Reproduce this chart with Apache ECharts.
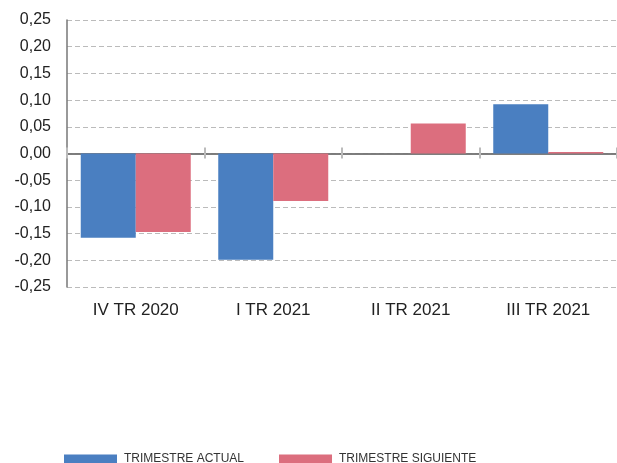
<!DOCTYPE html>
<html><head><meta charset="utf-8">
<script src="https://cdn.jsdelivr.net/npm/echarts@6/dist/echarts.min.js"></script>
<style>html,body{margin:0;padding:0;background:#fff}#c{width:617px;height:463px}</style>
</head><body><div id="c"></div>
<script>
const categories = ['IV TR 2020', 'I TR 2021', 'II TR 2021', 'III TR 2021'];
const seriesNames = ['TRIMESTRE ACTUAL', 'TRIMESTRE SIGUIENTE'];
const actual = [-0.158, -0.199, 0, 0.092];
const siguiente = [-0.147, -0.089, 0.056, 0.003];
const yTicks = { min: -0.25, max: 0.25, interval: 0.05 };

const chart = echarts.init(document.getElementById('c'), null, { renderer: 'canvas' });
const font = 'Liberation Sans, Arial, Helvetica, sans-serif';
chart.setOption({
  animation: false,
  textStyle: { fontFamily: font },
  grid: { left: 67, right: 0, top: 20, bottom: 176, containLabel: false },
  legend: {
    bottom: -2, left: 64, padding: 0, itemGap: 35, itemWidth: 53, itemHeight: 9,
    icon: 'rect',
    textStyle: { fontFamily: font, fontSize: 12, color: '#333', padding: [0, 0, 0, 2] },
    data: seriesNames
  },
  xAxis: [{
    type: 'category', data: categories,
    axisLine: { onZero: false, show: false },
    axisTick: { show: false },
    axisLabel: { fontSize: 17, color: '#222', margin: 15 },
    position: 'bottom'
  }, {
    type: 'category', data: categories,
    axisLine: { onZero: true, onZeroAxisIndex: 0, show: true, lineStyle: { color: '#777', width: 1.5 } },
    axisTick: { show: true, length: 5, lineStyle: { color: '#bbb', width: 2 } },
    axisLabel: { show: false },
    position: 'bottom'
  }, {
    type: 'category', data: categories,
    axisLine: { onZero: true, onZeroAxisIndex: 1, show: true, lineStyle: { color: '#777', width: 1.5 } },
    axisTick: { show: true, inside: true, length: 6, lineStyle: { color: '#bbb', width: 2 } },
    axisLabel: { show: false },
    position: 'bottom'
  }],
  yAxis: [{
    type: 'value', min: yTicks.min, max: yTicks.max, interval: yTicks.interval,
    axisLine: { show: true, lineStyle: { color: '#777', width: 1.5 } },
    axisTick: { show: false },
    splitLine: { lineStyle: { color: '#bbb', type: [5, 3], width: 1 } },
    axisLabel: { fontSize: 16, color: '#222', margin: 16,
      formatter: v => v.toFixed(2).replace('.', ',') }
  }, {
    type: 'value', min: yTicks.min, max: yTicks.max, interval: yTicks.interval,
    position: 'left',
    axisLine: { show: false }, axisTick: { show: false }, axisLabel: { show: false }, splitLine: { show: false }
  }],
  series: [
    { name: seriesNames[0], type: 'bar', data: actual, itemStyle: { color: '#4a7fc1' }, barGap: '0%', barCategoryGap: '20%' },
    { name: seriesNames[1], type: 'bar', data: siguiente, itemStyle: { color: '#dc6e7e' }, barGap: '0%', barCategoryGap: '20%' }
  ]
});
</script></body></html>
